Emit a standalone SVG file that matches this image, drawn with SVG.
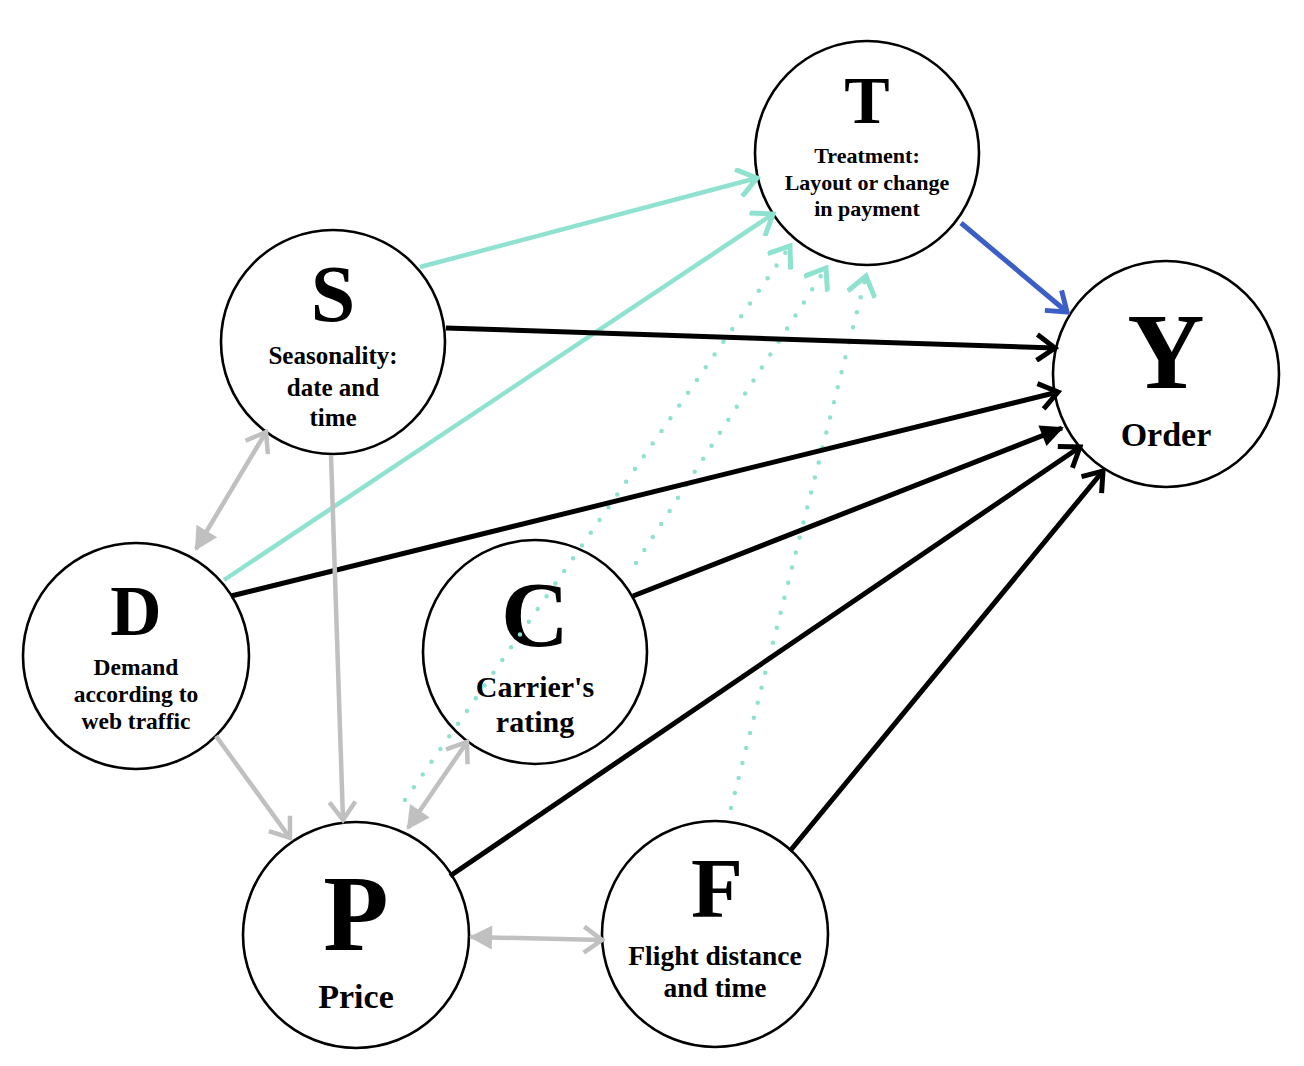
<svg xmlns="http://www.w3.org/2000/svg" width="1304" height="1066" viewBox="0 0 1304 1066">
<style>
.node circle{fill:#fff;stroke:#000;stroke-width:2.6}
text{font-family:"Liberation Serif","Times New Roman",serif;font-weight:bold;fill:#000;text-anchor:middle}
.blk{stroke:#000;stroke-width:5;fill:none}
.teal{stroke:#8ee2cf;stroke-width:4.5;fill:none}
.dot{stroke:#8ee2cf;stroke-width:4.5;fill:none;stroke-dasharray:0 15.5;stroke-linecap:round}
.gray{stroke:#c0c0c0;stroke-width:4.5;fill:none}
.blue{stroke:#3b5fc6;stroke-width:5;fill:none}
</style>
<defs>
<marker id="ob" viewBox="-24 -15 28 30" refX="0" refY="0" markerWidth="28" markerHeight="30" markerUnits="userSpaceOnUse" orient="auto-start-reverse"><path d="M-18,-13 L0,0 L-18,13" fill="none" stroke="#000" stroke-width="5"/></marker>
<marker id="fb" viewBox="-24 -15 28 30" refX="0" refY="0" markerWidth="28" markerHeight="30" markerUnits="userSpaceOnUse" orient="auto-start-reverse"><path d="M-21,-11 L2,0 L-21,11 Z" fill="#000"/></marker>
<marker id="ot" viewBox="-24 -15 28 30" refX="0" refY="0" markerWidth="28" markerHeight="30" markerUnits="userSpaceOnUse" orient="auto-start-reverse"><path d="M-19,-14 L0,0 L-19,14" fill="none" stroke="#8ee2cf" stroke-width="5"/></marker>
<marker id="og" viewBox="-24 -15 28 30" refX="0" refY="0" markerWidth="28" markerHeight="30" markerUnits="userSpaceOnUse" orient="auto-start-reverse"><path d="M-18,-13 L0,0 L-18,13" fill="none" stroke="#c0c0c0" stroke-width="4.5"/></marker>
<marker id="fg" viewBox="-24 -15 28 30" refX="0" refY="0" markerWidth="28" markerHeight="30" markerUnits="userSpaceOnUse" orient="auto-start-reverse"><path d="M-21,-12 L2,0 L-21,12 Z" fill="#c0c0c0"/></marker>
<marker id="obl" viewBox="-24 -15 28 30" refX="0" refY="0" markerWidth="28" markerHeight="30" markerUnits="userSpaceOnUse" orient="auto-start-reverse"><path d="M-18,-13 L0,0 L-18,13" fill="none" stroke="#3b5fc6" stroke-width="5"/></marker>
</defs>
<g id="node-T" class="node"><circle cx="867" cy="153" r="112"/>
<text x="867" y="123" font-size="68">T</text>
<text x="867" y="163" font-size="22">Treatment:</text>
<text x="867" y="190" font-size="22">Layout or change</text>
<text x="867" y="216" font-size="22">in payment</text></g>
<g id="node-S" class="node"><circle cx="333" cy="342" r="112"/>
<text x="333" y="321" font-size="80">S</text>
<text x="333" y="364" font-size="25">Seasonality:</text>
<text x="333" y="396" font-size="25">date and</text>
<text x="333" y="426" font-size="25">time</text></g>
<g id="node-D" class="node"><circle cx="136" cy="656" r="113"/>
<text x="136" y="635" font-size="71">D</text>
<text x="136" y="675" font-size="23.5">Demand</text>
<text x="136" y="702" font-size="23.5">according to</text>
<text x="136" y="729" font-size="23.5">web traffic</text></g>
<g id="node-C" class="node"><circle cx="535" cy="652" r="112"/>
<text x="535" y="646" font-size="94">C</text>
<text x="535" y="697" font-size="30">Carrier's</text>
<text x="535" y="732" font-size="30">rating</text></g>
<g id="node-P" class="node"><circle cx="356" cy="935" r="113"/>
<text x="356" y="950" font-size="107">P</text>
<text x="356" y="1008" font-size="34">Price</text></g>
<g id="node-F" class="node"><circle cx="715" cy="934" r="113"/>
<text x="717" y="917" font-size="85">F</text>
<text x="715" y="965" font-size="27.5">Flight distance</text>
<text x="715" y="997" font-size="27.5">and time</text></g>
<g id="node-Y" class="node"><circle cx="1166" cy="374" r="113"/>
<text x="1166" y="388" font-size="107">Y</text>
<text x="1166" y="446" font-size="34">Order</text></g>
<g id="connectors">
<line class="teal" x1="420" y1="267" x2="757" y2="178" marker-end="url(#ot)"/>
<line class="teal" x1="224" y1="580" x2="773" y2="214" marker-end="url(#ot)"/>
<line class="dot" x1="405" y1="800" x2="790" y2="246" marker-end="url(#ot)"/>
<line class="dot" x1="636" y1="563" x2="826" y2="268" marker-end="url(#ot)"/>
<line class="dot" x1="731" y1="808" x2="866" y2="276" marker-end="url(#ot)"/>
<line class="blk" x1="446" y1="328" x2="1055" y2="348" marker-end="url(#ob)"/>
<line class="blk" x1="231" y1="596" x2="1058" y2="392" marker-end="url(#ob)"/>
<line class="blk" x1="633" y1="596" x2="1062" y2="428" marker-end="url(#fb)"/>
<line class="blk" x1="450" y1="876" x2="1080" y2="447" marker-end="url(#ob)"/>
<line class="blk" x1="790" y1="851" x2="1103" y2="471" marker-end="url(#ob)"/>
<line class="blue" x1="961" y1="223" x2="1067" y2="312" marker-end="url(#obl)"/>
<line class="gray" x1="331" y1="455" x2="343" y2="820" marker-end="url(#og)"/>
<line class="gray" x1="216" y1="736" x2="290" y2="838" marker-end="url(#og)"/>
<line class="gray" x1="196" y1="549" x2="266" y2="432" marker-start="url(#fg)" marker-end="url(#og)"/>
<line class="gray" x1="408" y1="828" x2="467" y2="742" marker-start="url(#fg)" marker-end="url(#og)"/>
<line class="gray" x1="471" y1="937" x2="602" y2="940" marker-start="url(#fg)" marker-end="url(#og)"/>
</g>
</svg>
